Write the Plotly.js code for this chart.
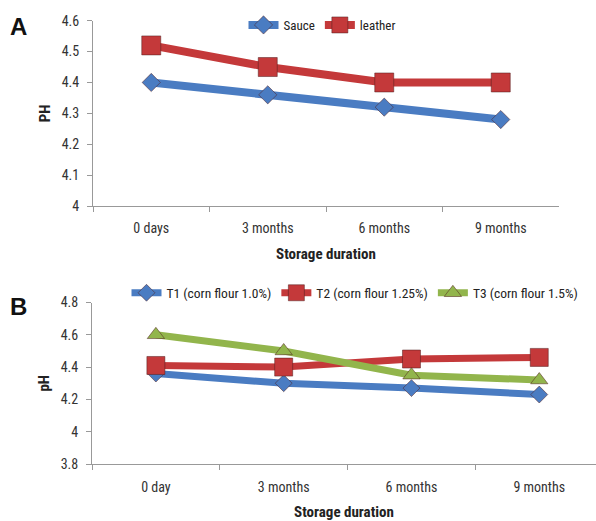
<!DOCTYPE html>
<html>
<head>
<meta charset="utf-8">
<script src="https://cdn.plot.ly/plotly-3.0.1.min.js"></script>
<style>html,body{margin:0;padding:0;background:#fff;}#chart{width:596px;height:521px;}</style>
</head>
<body>
<div id="chart"></div>
<script>
// Panel A data
const catsA = ["0 days", "3 months", "6 months", "9 months"];
const sauce = [4.40, 4.36, 4.32, 4.28];
const leather = [4.52, 4.45, 4.40, 4.40];
// Panel B data
const catsB = ["0 day", "3 months", "6 months", "9 months"];
const t1 = [4.36, 4.30, 4.27, 4.23];
const t2 = [4.41, 4.40, 4.45, 4.46];
const t3 = [4.60, 4.50, 4.35, 4.32];

const BLUE = "#4a7cc2", RED = "#c4393a", GREEN = "#92b54c";
const FONT = "Liberation Sans Narrow, Roboto Condensed, Arial Narrow, sans-serif";

function tr(x, y, name, color, symbol, size, lw, xa, ya, leg) {
  return {
    x: x, y: y, name: name, type: "scatter", mode: "lines+markers",
    xaxis: xa, yaxis: ya, legend: leg,
    line: {color: color, width: lw},
    marker: {color: color, symbol: symbol, size: size, line: {color: "rgba(80,30,30,0.5)", width: 1}}
  };
}

const data = [
  tr(catsA, sauce, "Sauce", BLUE, "diamond", 14, 8, "x", "y", "legend"),
  tr(catsA, leather, "leather", RED, "square", 19, 8, "x", "y", "legend"),
  tr(catsB, t1, "T1 (corn flour 1.0%)", BLUE, "diamond", 13, 7, "x2", "y2", "legend2"),
  tr(catsB, t2, "T2 (corn flour 1.25%)", RED, "square", 18, 7, "x2", "y2", "legend2"),
  tr(catsB, t3, "T3 (corn flour 1.5%)", GREEN, "triangle-up", 15, 7, "x2", "y2", "legend2")
];

const tickFont = {family: FONT, size: 14, color: "#333"};
const titleFont = {family: FONT, size: 15, color: "#222", weight: "bold"};

function xax(domain, anchor, range, standoff, tstand) {
  return {
    domain: domain, anchor: anchor, type: "category", range: range,
    showline: true, linecolor: "#999", linewidth: 1,
    ticks: "outside", tickson: "boundaries", ticklen: 5, tickcolor: "#999",
    showgrid: false, zeroline: false, tickfont: tickFont,
    ticklabelstandoff: standoff,
    title: {text: "Storage duration", font: titleFont, standoff: tstand}
  };
}
function yax(domain, anchor, range, dtick, title) {
  return {
    domain: domain, anchor: anchor, range: range, dtick: dtick,
    showline: true, linecolor: "#999", linewidth: 1,
    ticks: "outside", ticklen: 5, tickcolor: "#999",
    showgrid: false, zeroline: false, tickfont: tickFont,
    ticklabelstandoff: 5,
    title: {text: title, font: titleFont, standoff: 7}
  };
}

const layout = {
  width: 596, height: 521,
  margin: {l: 0, r: 0, t: 0, b: 0},
  paper_bgcolor: "#fff", plot_bgcolor: "#fff",
  xaxis: xax([93/596, 559/596], "y", [-0.5, 3.5], 9, 13),
  yaxis: yax([1 - 206/521, 1 - 20.7/521], "x", [4, 4.6], 0.1, "PH"),
  xaxis2: xax([92/596, 1], "y2", [-0.5, 3.444], 10, 13),
  yaxis2: yax([1 - 464/521, 1 - 302.5/521], "x2", [3.8, 4.8], 0.2, "pH"),
  legend: {orientation: "h", x: 322/596, xanchor: "center", y: 1 - 25/521, yanchor: "middle",
           font: {family: FONT, size: 13, color: "#222"}, bgcolor: "rgba(0,0,0,0)", itemwidth: 30},
  legend2: {orientation: "h", x: 355/596, xanchor: "center", y: 1 - 293/521, yanchor: "middle",
           font: {family: FONT, size: 13.5, color: "#222"}, bgcolor: "rgba(0,0,0,0)", itemwidth: 30},
  annotations: [
    {text: "A", x: 18/596, y: 1 - 27/521, xref: "paper", yref: "paper", xanchor: "center", yanchor: "middle", showarrow: false,
     font: {family: "Liberation Sans, Arial, sans-serif", size: 24, color: "#111", weight: "bold"}},
    {text: "B", x: 18/596, y: 1 - 306/521, xref: "paper", yref: "paper", xanchor: "center", yanchor: "middle", showarrow: false,
     font: {family: "Liberation Sans, Arial, sans-serif", size: 24, color: "#111", weight: "bold"}}
  ],
  showlegend: true
};

Plotly.newPlot("chart", data, layout, {displayModeBar: false, staticPlot: true});
</script>
</body>
</html>
